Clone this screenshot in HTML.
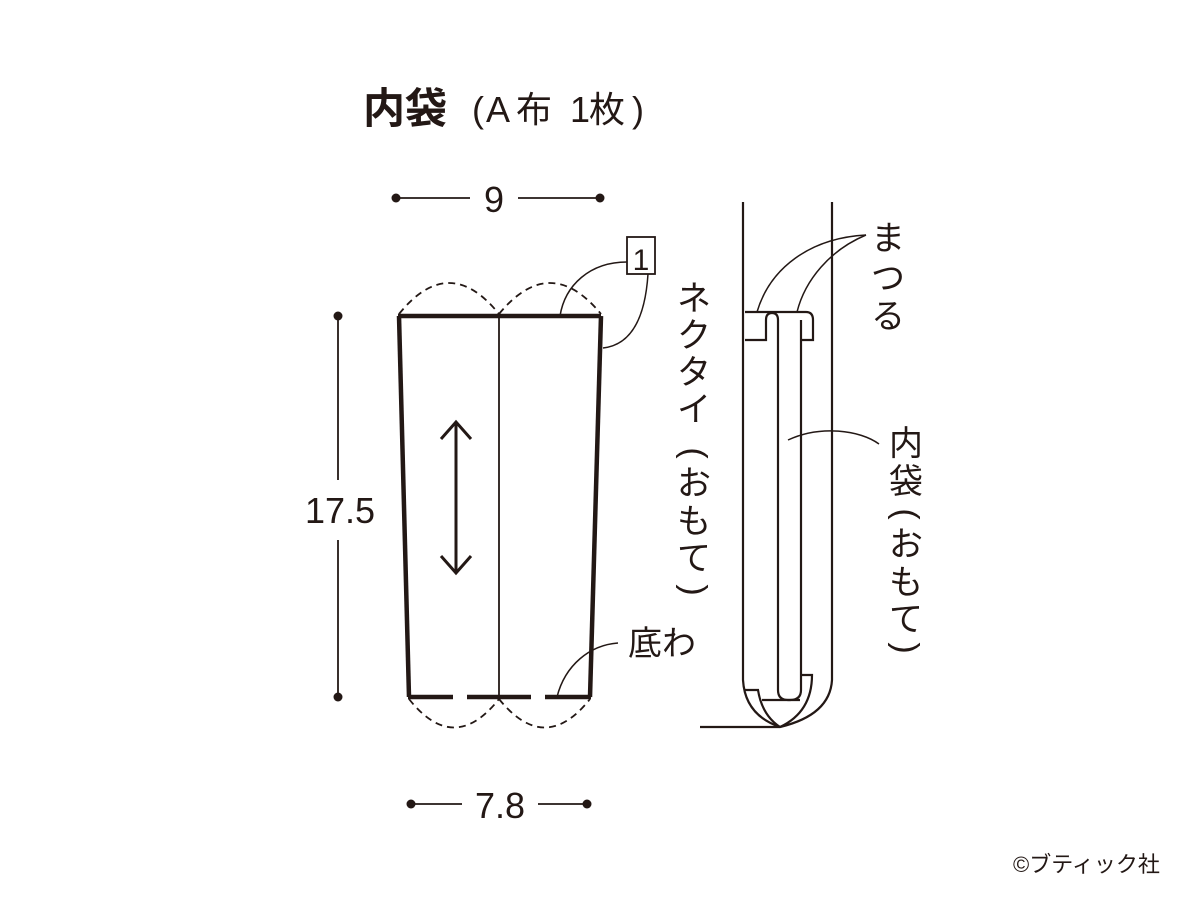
<!DOCTYPE html>
<html><head><meta charset="utf-8"><style>
html,body{margin:0;padding:0;background:#fff;}
svg text{font-family:"Liberation Sans","Noto Sans CJK JP",sans-serif;fill:#231815;}
</style></head><body>
<svg width="1200" height="900" viewBox="0 0 1200 900" xmlns="http://www.w3.org/2000/svg">
<text x="363" y="123" font-size="42" font-weight="bold">内袋</text>
<g font-size="36">
<text x="472" y="122">(</text>
<text x="486" y="122">A</text>
<text x="516" y="122">布</text>
<text x="570" y="122">1</text>
<text x="589" y="122">枚</text>
<text x="632" y="122">)</text>
</g>

<g stroke="#231815" fill="none">
<line x1="396" y1="198" x2="470" y2="198" stroke-width="1.8"/>
<line x1="518" y1="198" x2="600" y2="198" stroke-width="1.8"/>
<line x1="338" y1="316" x2="338" y2="480" stroke-width="1.8"/>
<line x1="338" y1="540" x2="338" y2="697" stroke-width="1.8"/>
<line x1="411" y1="804" x2="462" y2="804" stroke-width="1.8"/>
<line x1="538" y1="804" x2="587" y2="804" stroke-width="1.8"/>

<line x1="398" y1="316" x2="601" y2="316" stroke-width="4.5"/>
<line x1="399" y1="316" x2="409" y2="697" stroke-width="4.5"/>
<line x1="601" y1="316" x2="590" y2="697" stroke-width="4.5"/>
<line x1="499" y1="316" x2="499" y2="697" stroke-width="1.8"/>
<g stroke-width="4.5">
<line x1="408" y1="697" x2="453" y2="697"/>
<line x1="467" y1="697" x2="531" y2="697"/>
<line x1="545" y1="697" x2="591" y2="697"/>
</g>
<g stroke-width="1.8" stroke-dasharray="7 5">
<path d="M399 314 Q449 252 499 314"/>
<path d="M499 314 Q550 252 601 314"/>
<path d="M409 699 Q454 756 499 699"/>
<path d="M499 699 Q545 756 590 699"/>
</g>
<line x1="456" y1="422" x2="456" y2="573" stroke-width="3"/>
<polyline points="441,439 456,422 471,439" stroke-width="3"/>
<polyline points="441,556 456,573 471,556" stroke-width="3"/>
<rect x="627" y="237" width="28" height="37" stroke-width="1.8" fill="#fff"/>
<path d="M627 262 C590 262 565 285 560 316" stroke-width="1.5"/>
<path d="M648 274 C645 320 630 345 603 348" stroke-width="1.5"/>
<path d="M557 697 C565 665 590 645 618 643" stroke-width="1.5"/>

<path d="M743 202 L743 680 Q745 715 780 727 Q830 715 832 680 L832 202" stroke-width="2.2"/>
<line x1="700" y1="727" x2="780" y2="727" stroke-width="2.2"/>
<path d="M745 312 L806 312 Q813 312 813 320 L813 340 L801 340" stroke-width="2.2"/>
<path d="M745 340 L766 340 L766 320 Q766 313 772 313 Q778 313 778 320 L778 690 Q778 700 788 700 L790 700 Q801 700 801 690 L801 320" stroke-width="2.2"/>
<path d="M745 690 L758 690 Q762 715 780 727" stroke-width="2.2"/>
<path d="M762 700 L800 700" stroke-width="2.2"/>
<path d="M801 675 L812 675 Q812 712 780 727" stroke-width="2.2"/>
<path d="M866 235 C810 238 770 268 757 312" stroke-width="1.5"/>
<path d="M866 235 C830 250 805 280 797 312" stroke-width="1.5"/>
<path d="M788 440 C820 425 860 430 879 444" stroke-width="1.5"/>
</g>
<g fill="#231815">
<circle cx="396" cy="198" r="4.5"/><circle cx="600" cy="198" r="4.5"/>
<circle cx="338" cy="316" r="4.5"/><circle cx="338" cy="697" r="4.5"/>
<circle cx="411" cy="804" r="4.5"/><circle cx="587" cy="804" r="4.5"/>
</g>
<text x="494" y="212" font-size="36" text-anchor="middle">9</text>
<text x="340" y="523" font-size="36" text-anchor="middle">17.5</text>
<text x="500" y="818" font-size="36" text-anchor="middle">7.8</text>
<text x="641" y="270" font-size="30" text-anchor="middle">1</text>
<text x="628" y="655" font-size="34">底わ</text>

<g font-size="34" text-anchor="middle">
<text x="694" y="310">ネ</text>
<text x="694" y="347">ク</text>
<text x="694" y="384">タ</text>
<text x="694" y="421">イ</text>
<text x="694" y="453" dominant-baseline="central" transform="rotate(90 694 453)">(</text>
<text x="694" y="495">お</text>
<text x="694" y="533">も</text>
<text x="694" y="570">て</text>
<text x="694" y="590" dominant-baseline="central" transform="rotate(90 694 590)">)</text>

<text x="888" y="250">ま</text>
<text x="888" y="290">つ</text>
<text x="888" y="328">る</text>

<text x="906" y="455">内</text>
<text x="906" y="493">袋</text>
<text x="906" y="514" dominant-baseline="central" transform="rotate(90 906 514)">(</text>
<text x="906" y="556">お</text>
<text x="906" y="594">も</text>
<text x="906" y="631">て</text>
<text x="906" y="648" dominant-baseline="central" transform="rotate(90 906 648)">)</text>
</g>
<text x="1013" y="872" font-size="22">©ブティック社</text>
</svg>
</body></html>
